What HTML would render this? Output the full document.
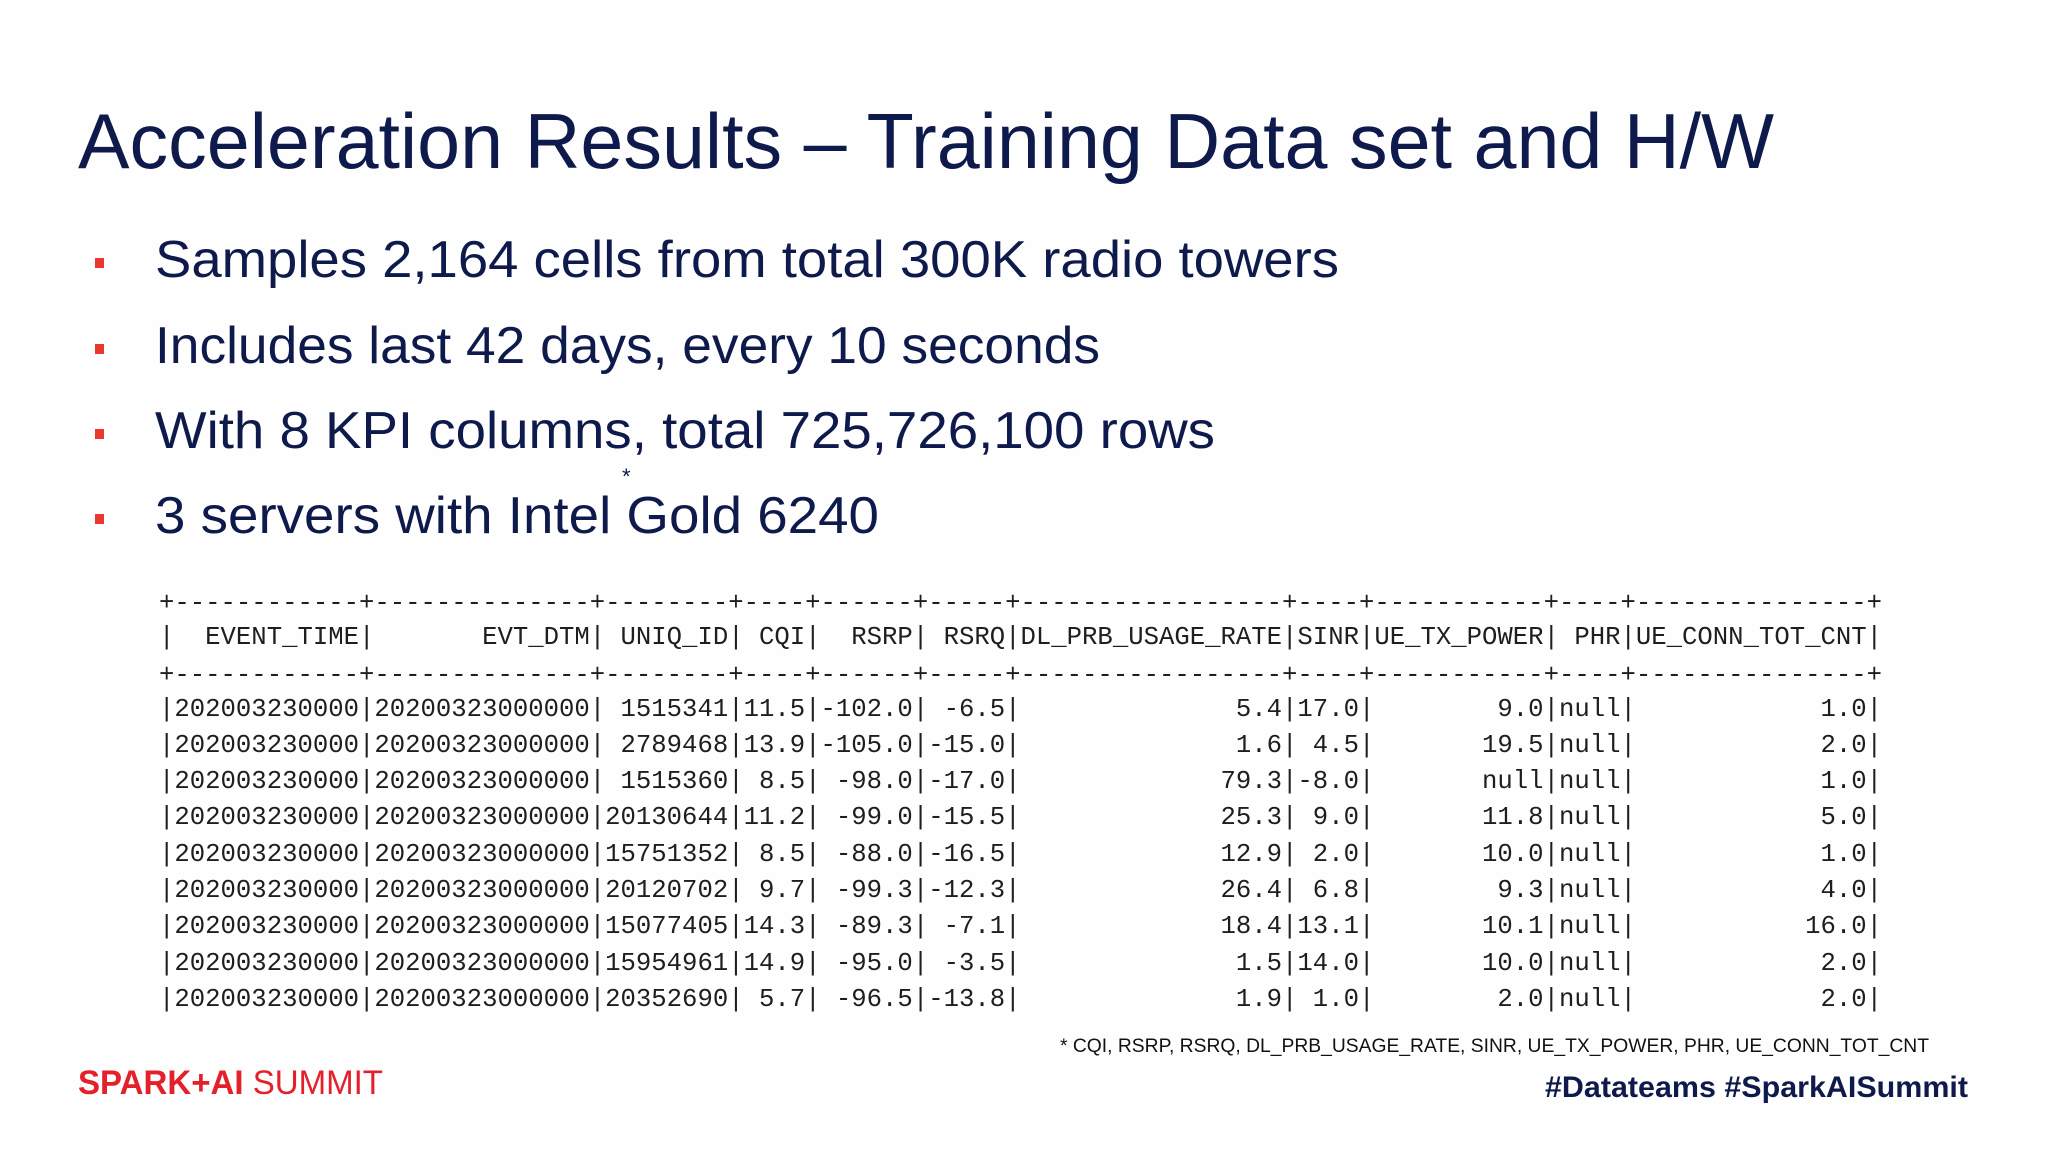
<!DOCTYPE html>
<html><head><meta charset="utf-8">
<style>
html,body{margin:0;padding:0;background:#fff;}
svg{display:block;}
.tbl{position:absolute;left:159px;top:0;}
.tbl pre{position:absolute;left:0;margin:0;font-family:"Liberation Mono",monospace;font-size:26px;line-height:26px;color:#1e1e1e;transform:scaleX(0.986);transform-origin:0 0;white-space:pre;}
</style></head>
<body>
<div style="position:relative;width:2048px;height:1152px;overflow:hidden;">
<svg width="2048" height="1152" viewBox="0 0 2048 1152">
<rect width="2048" height="1152" fill="#fefefe"/>
<text x="78" y="168" textLength="1696" lengthAdjust="spacingAndGlyphs" font-family="Liberation Sans, sans-serif" font-size="78" fill="#0e1a4b">Acceleration Results – Training Data set and H/W</text>
<g font-family="Liberation Sans, sans-serif" font-size="52" fill="#0e1a4b">
<rect x="95" y="258" width="9" height="10" fill="#e8382f"/>
<text x="155" y="277" textLength="1184" lengthAdjust="spacingAndGlyphs">Samples 2,164 cells from total 300K radio towers</text>
<rect x="95" y="344" width="9" height="10" fill="#e8382f"/>
<text x="155" y="363" textLength="945" lengthAdjust="spacingAndGlyphs">Includes last 42 days, every 10 seconds</text>
<rect x="95" y="429" width="9" height="10" fill="#e8382f"/>
<text x="155" y="448" textLength="1060" lengthAdjust="spacingAndGlyphs">With 8 KPI columns, total 725,726,100 rows</text>
<text x="622" y="484" font-size="22">*</text>
<rect x="95" y="514" width="9" height="10" fill="#e8382f"/>
<text x="155" y="533" textLength="724" lengthAdjust="spacingAndGlyphs">3 servers with Intel Gold 6240</text>
</g>
<text x="1060" y="1052" textLength="869" lengthAdjust="spacingAndGlyphs" font-family="Liberation Sans, sans-serif" font-size="19" fill="#111">* CQI, RSRP, RSRQ, DL_PRB_USAGE_RATE, SINR, UE_TX_POWER, PHR, UE_CONN_TOT_CNT</text>
<text x="78" y="1094" textLength="305" lengthAdjust="spacingAndGlyphs" font-family="Liberation Sans, sans-serif" font-size="34" fill="#e4202a"><tspan font-weight="bold">SPARK+AI</tspan> SUMMIT</text>
<text x="1545" y="1097" textLength="423" lengthAdjust="spacingAndGlyphs" font-family="Liberation Sans, sans-serif" font-size="30" font-weight="bold" fill="#0e1a4b">#Datateams  #SparkAISummit</text>
</svg>
<div class="tbl">
<pre style="top:590px">+------------+--------------+--------+----+------+-----+-----------------+----+-----------+----+---------------+</pre>
<pre style="top:624px">|  EVENT_TIME|       EVT_DTM| UNIQ_ID| CQI|  RSRP| RSRQ|DL_PRB_USAGE_RATE|SINR|UE_TX_POWER| PHR|UE_CONN_TOT_CNT|</pre>
<pre style="top:662px">+------------+--------------+--------+----+------+-----+-----------------+----+-----------+----+---------------+</pre>
<pre style="top:696px">|202003230000|20200323000000| 1515341|11.5|-102.0| -6.5|              5.4|17.0|        9.0|null|            1.0|</pre>
<pre style="top:732px">|202003230000|20200323000000| 2789468|13.9|-105.0|-15.0|              1.6| 4.5|       19.5|null|            2.0|</pre>
<pre style="top:768px">|202003230000|20200323000000| 1515360| 8.5| -98.0|-17.0|             79.3|-8.0|       null|null|            1.0|</pre>
<pre style="top:804px">|202003230000|20200323000000|20130644|11.2| -99.0|-15.5|             25.3| 9.0|       11.8|null|            5.0|</pre>
<pre style="top:841px">|202003230000|20200323000000|15751352| 8.5| -88.0|-16.5|             12.9| 2.0|       10.0|null|            1.0|</pre>
<pre style="top:877px">|202003230000|20200323000000|20120702| 9.7| -99.3|-12.3|             26.4| 6.8|        9.3|null|            4.0|</pre>
<pre style="top:913px">|202003230000|20200323000000|15077405|14.3| -89.3| -7.1|             18.4|13.1|       10.1|null|           16.0|</pre>
<pre style="top:950px">|202003230000|20200323000000|15954961|14.9| -95.0| -3.5|              1.5|14.0|       10.0|null|            2.0|</pre>
<pre style="top:986px">|202003230000|20200323000000|20352690| 5.7| -96.5|-13.8|              1.9| 1.0|        2.0|null|            2.0|</pre>
</div>
</div>
</body></html>
